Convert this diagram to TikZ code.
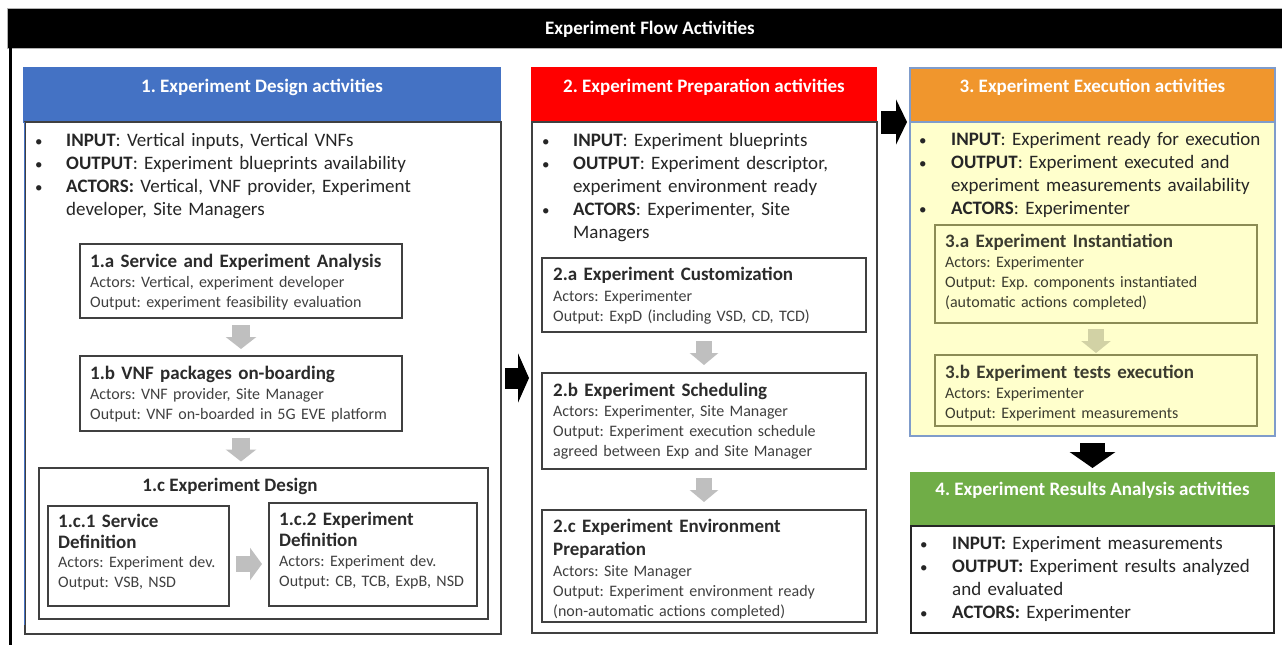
\documentclass[tikz,border=0pt]{standalone}
\usepackage{fontspec}
\setmainfont{Carlito}
\usetikzlibrary{arrows.meta}
\definecolor{hblue}{HTML}{4472C4}
\definecolor{hred}{HTML}{FF0000}
\definecolor{horange}{HTML}{F0962D}
\definecolor{hgreen}{HTML}{70AD47}
\definecolor{pyellow}{HTML}{FFFFCC}
\definecolor{bordgray}{HTML}{404040}
\definecolor{txtgray}{HTML}{404040}
\definecolor{txthead}{HTML}{2B2B2B}
\definecolor{txtdark}{HTML}{262626}
\definecolor{arrgray}{HTML}{BFBFBF}
\definecolor{arrolive}{HTML}{D2D2A5}
\definecolor{olivebord}{HTML}{8C8C55}
\definecolor{bluegray}{HTML}{7F9CCB}
\definecolor{oltxt}{HTML}{3C3C30}
\frenchspacing
\newcommand\placebox[6]{\node[#1, minimum width={#5pt-#3pt}, minimum height={#6pt-#4pt}] (#2) at (#3,#4) {};}
\newcommand\bdot{{\fontsize{15}{23}\selectfont\textbullet}}
\begin{document}
\begin{tikzpicture}[x=1pt,y=-1pt,
  basebox/.style={inner sep=0pt, outer sep=0pt, anchor=north west, line width=1.2pt},
  hdrbox/.style={basebox},
  frame/.style={basebox, draw=bordgray, fill=white},
  inbox/.style={basebox, draw=bordgray, line width=1.4pt, fill=white},
  olbox/.style={basebox, draw=olivebord, line width=1.4pt},
  hdrtxt/.style={inner sep=0pt, anchor=base, text=white, font=\fontsize{19}{23}\selectfont\bfseries},
  bul/.style={inner sep=0pt, anchor=base west, align=left, text width=400pt, text=txtdark, font=\fontsize{19}{23}\selectfont},
  hd/.style={inner sep=0pt, anchor=base west, align=left, text width=400pt, text=txthead, font=\fontsize{19}{21}\selectfont\bfseries},
  bd/.style={inner sep=0pt, anchor=base west, align=left, text width=400pt, text=txtgray, font=\fontsize{16}{20}\selectfont},
  garrow/.style={draw=arrgray, line width=18pt, -{Triangle[length=12pt,width=30pt]}},
  oarrow/.style={draw=arrolive, line width=16pt, -{Triangle[length=12pt,width=29pt]}},
  barrow/.style={draw=black, -{Triangle[length=11pt,width=49pt]}}
]
\useasboundingbox (0,0) rectangle (1282,645);
\fill[white] (0,0) rectangle (1282,645);
% title bar and outer frame
\placebox{basebox, fill=black, draw=gray!60, line width=0.8pt}{bar}{7}{8}{1282}{48}
\node[hdrtxt] (title) at (650,34) {Experiment Flow Activities};
\draw[black, line width=3pt] (10,48) -- (10,645);
% box 1
\placebox{hdrbox, fill=hblue, draw=hblue}{h1}{24}{68}{500}{122}
\placebox{frame}{b1}{25}{122}{501}{634}
\draw[hblue, line width=1.2pt] (24.6,122) -- (24.6,625);
\placebox{inbox}{a1}{80}{244}{402}{318}
\placebox{inbox}{bb1}{80}{356}{402}{431}
\placebox{inbox}{c1}{39}{468}{488}{619}
\placebox{inbox}{c11}{48}{506}{229}{606}
\placebox{inbox}{c12}{269}{503}{477}{606}
% box 2
\placebox{hdrbox, fill=hred, draw=hred}{h2}{532}{68}{876}{122}
\placebox{frame}{b2}{532}{122}{877}{633}
\placebox{inbox}{a2}{542}{258}{866}{332}
\placebox{inbox}{bb2}{542}{373}{866}{469}
\placebox{inbox}{c2}{542}{510}{866}{622}
% box 3
\placebox{hdrbox, fill=horange, draw=bluegray}{h3}{910}{68}{1275}{122}
\placebox{frame, fill=pyellow, draw=bluegray}{b3}{910}{122}{1275}{436}
\placebox{olbox}{a3}{935}{225}{1257}{323}
\placebox{olbox}{bb3}{935}{355}{1257}{426}
% box 4
\placebox{hdrbox, fill=hgreen, draw=hgreen}{h4}{911}{473}{1274}{526}
\placebox{frame, draw=txtdark}{b4}{911}{526}{1274}{633}
% headers
\node[hdrtxt] (ht1) at (262,92) {1. Experiment Design activities};
\node[hdrtxt] (ht2) at (704,92) {2. Experiment Preparation activities};
\node[hdrtxt] (ht3) at (1092.5,92) {3. Experiment Execution activities};
\node[hdrtxt] (ht4) at (1092.5,495) {4. Experiment Results Analysis activities};
% bullet lists
\node[bul] (d1) at (35,146) {\bdot\\\bdot\\\bdot};
\node[bul] (l1) at (66,146) {\textbf{INPUT}: Vertical inputs, Vertical VNFs\\\textbf{OUTPUT}: Experiment blueprints availability\\\textbf{ACTORS:} Vertical, VNF provider, Experiment\\developer, Site Managers};
\node[bul] (d2) at (542,146) {\bdot\\\bdot\\\mbox{}\\\bdot};
\node[bul] (l2) at (573,146) {\textbf{INPUT}: Experiment blueprints\\\textbf{OUTPUT}: Experiment descriptor,\\experiment environment ready\\\textbf{ACTORS}: Experimenter, Site\\Managers};
\node[bul] (d3) at (919,145) {\bdot\\\bdot\\\mbox{}\\\bdot};
\node[bul] (l3) at (951,145) {\textbf{INPUT}: Experiment ready for execution\\\textbf{OUTPUT}: Experiment executed and\\experiment measurements availability\\\textbf{ACTORS}: Experimenter};
\node[bul] (d4) at (920,549) {\bdot\\\bdot\\\mbox{}\\\bdot};
\node[bul] (l4) at (952,549) {\textbf{INPUT:} Experiment measurements\\\textbf{OUTPUT:} Experiment results analyzed\\and evaluated\\\textbf{ACTORS:} Experimenter};
% inner texts box 1
\node[hd] (t1a) at (90,267) {1.a Service and Experiment Analysis};
\node[bd] (t1a2) at (90,287.5) {Actors: Vertical, experiment developer\\Output: experiment feasibility evaluation};
\node[hd] (t1b) at (90,379) {1.b VNF packages on-boarding};
\node[bd] (t1b2) at (90,399.5) {Actors: VNF provider, Site Manager\\Output: VNF on-boarded in 5G EVE platform};
\node[inner sep=0pt, anchor=base, text=txthead, font=\fontsize{19}{21}\selectfont\bfseries] (t1c) at (230,491) {1.c Experiment Design};
\node[hd] (t1c1) at (58,527) {1.c.1 Service\\Definition};
\node[bd] (t1c1b) at (58,567.5) {Actors: Experiment dev.\\Output: VSB, NSD};
\node[hd] (t1c2) at (279,525) {1.c.2 Experiment\\Definition};
\node[bd] (t1c2b) at (279,566.5) {Actors: Experiment dev.\\Output: CB, TCB, ExpB, NSD};
% inner texts box 2
\node[hd] (t2a) at (553,280) {2.a Experiment Customization};
\node[bd] (t2a2) at (553,301.5) {Actors: Experimenter\\Output: ExpD (including VSD, CD, TCD)};
\node[hd] (t2b) at (553,396) {2.b Experiment Scheduling};
\node[bd] (t2b2) at (553,416.5) {Actors: Experimenter, Site Manager\\Output: Experiment execution schedule\\agreed between Exp and Site Manager};
\node[hd, font=\fontsize{19}{23}\selectfont\bfseries] (t2c) at (553,532) {2.c Experiment Environment\\Preparation};
\node[bd] (t2c2) at (553,576.5) {Actors: Site Manager\\Output: Experiment environment ready\\(non-automatic actions completed)};
% inner texts box 3
\node[hd, text=oltxt] (t3a) at (945,247) {3.a Experiment Instantiation};
\node[bd, text=oltxt] (t3a2) at (945,267.5) {Actors: Experimenter\\Output: Exp. components instantiated\\(automatic actions completed)};
\node[hd, text=oltxt] (t3b) at (945,378) {3.b Experiment tests execution};
\node[bd, text=oltxt] (t3b2) at (945,398.5) {Actors: Experimenter\\Output: Experiment measurements};
% gray block arrows
\draw[garrow, shorten <=7pt, shorten >=7pt] (a1.south) -- (bb1.north);
\draw[garrow, shorten <=6.5pt, shorten >=6.5pt] (bb1.south) -- (bb1.south |- c1.north);
\draw[garrow, line width=16pt, -{Triangle[length=12pt,width=32pt]}, shorten <=7pt, shorten >=7pt] ([yshift=-8pt]c11.east) -- ([yshift=-8pt]c11.east -| c12.west);
\draw[garrow, line width=16pt, -{Triangle[length=12pt,width=28pt]}, shorten <=9pt, shorten >=8pt] (a2.south) -- (bb2.north);
\draw[garrow, line width=16pt, -{Triangle[length=12pt,width=28pt]}, shorten <=9pt, shorten >=8pt] (bb2.south) -- (c2.north);
\draw[oarrow, shorten <=6pt, shorten >=2pt] (a3.south) -- (bb3.north);
% black block arrows
\draw[barrow, line width=21pt, shorten <=4pt, shorten >=3pt] (b1.east) -- (b1.east -| b2.west);
\draw[barrow, line width=23pt, -{Triangle[length=11pt,width=45pt]}, shorten <=5pt, shorten >=3pt] (h2.south east) -- (h3.south west);
\draw[barrow, line width=25pt, -{Triangle[length=16pt,width=45pt]}, shorten <=7pt, shorten >=5pt] (b3.south) -- (b3.south |- h4.north);
\end{tikzpicture}
\end{document}
